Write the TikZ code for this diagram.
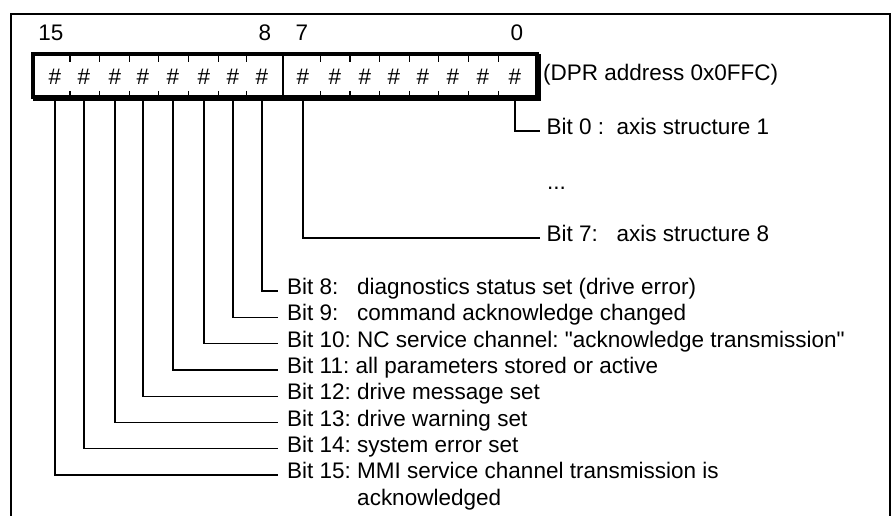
\documentclass[tikz,border=0pt]{standalone}
\usepackage{fontspec}
\setmainfont{Liberation Sans}[Ligatures=TeXOff]
\usetikzlibrary{shadows}
\begin{document}
\begin{tikzpicture}[x=1pt, y=-1pt,
  font=\fontsize{22.5}{26}\selectfont\frenchspacing,
  frame/.style={line width=1.8pt},
  regbox/.style={draw, line width=4pt, fill=white, inner sep=0pt,
    minimum width=504pt, minimum height=43pt,
    copy shadow={shadow xshift=1.5pt, shadow yshift=-1.5pt}},
  divider/.style={line width=1.5pt},
  tick/.style={line width=1.3pt},
  bitcell/.style={inner sep=0pt},
  bitnum/.style={inner sep=0pt},
  leader/.style={line width=1.3pt},
  txt/.style={anchor=west, inner ysep=0pt, text height=0.72em, text depth=0pt},
  lowlabel/.style={txt, inner xsep=9pt},
  highlabel/.style={txt, inner xsep=6.5pt}]

\useasboundingbox (0,0) rectangle (895,516);

% outer frame, open at the bottom
\draw[frame] (11,516) |- (890,14) -- (890,516);

% bit numbers above the register
\node[bitnum] (n15) at (51,33) {15};
\node[bitnum] (n8)  at (265,33) {8};
\node[bitnum] (n7)  at (302,33) {7};
\node[bitnum] (n0)  at (517,33) {0};

% the register word
\node[regbox] (reg) at (285,76) {};
\draw[divider] (283,54.5) -- (283,97.5);
\foreach \x in {70,99.3,129.3,158.3,188.3,218.3,246.7,320.7,350,379.3,409.3,438.3,468.3,498.3} {
  \draw[tick] (\x,54.5) -- (\x,62.5);
  \draw[tick] (\x,91) -- (\x,97.5);
}
\foreach \b/\x in {15/55,14/84,13/115,12/143,11/173,10/204,9/233,8/262,
                   7/303,6/335,5/365,4/394,3/423,2/453,1/483,0/515} {
  \node[bitcell] (c\b) at (\x,77) {\#};
}
\node[txt, inner xsep=0pt] (addr) at (543,77) {(DPR address 0x0FFC)};

% low byte
\node[highlabel] (t0) at (540,131) {Bit 0 :\ \ axis structure 1};
\node[txt, inner xsep=0pt] (dots) at (547,186) {...};
\node[highlabel] (t7) at (540,238) {Bit 7:\ \ \ axis structure 8};
\draw[leader] (c0 |- reg.south) |- (t0.west);
\draw[leader] (c7 |- reg.south) |- (t7.west);

% high byte
\node[lowlabel] (t8)  at (278,291)   {Bit 8:\ \ \ diagnostics status set (drive error)};
\node[lowlabel] (t9)  at (278,317.3) {Bit 9:\ \ \ command acknowledge changed};
\node[lowlabel] (t10) at (278,343.6) {Bit 10: NC service channel: "acknowledge transmission"};
\node[lowlabel] (t11) at (278,369.9) {Bit 11: all parameters stored or active};
\node[lowlabel] (t12) at (278,396.2) {Bit 12: drive message set};
\node[lowlabel] (t13) at (278,422.5) {Bit 13: drive warning set};
\node[lowlabel] (t14) at (278,448.8) {Bit 14: system error set};
\node[lowlabel] (t15) at (278,475.1) {Bit 15: MMI service channel transmission is};
\node[lowlabel, anchor=base west] (t15b) at ([yshift=-26.3pt]t15.base west)
  {\hphantom{Bit 15:\ }acknowledged};
\foreach \b in {8,...,15} {
  \draw[leader] (c\b |- reg.south) |- (t\b.west);
}
\end{tikzpicture}
\end{document}
